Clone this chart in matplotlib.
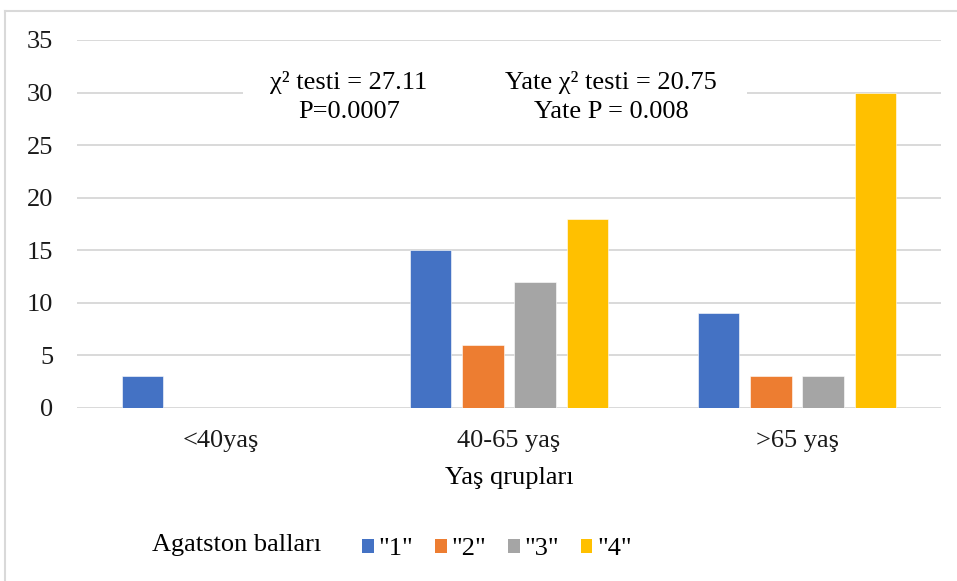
import matplotlib
matplotlib.use("Agg")
import matplotlib.pyplot as plt
from matplotlib.patches import Rectangle
from matplotlib.lines import Line2D
import numpy as np

plt.rcParams['font.family'] = ['Liberation Serif', 'DejaVu Serif']

categories = ['<40yaş', '40-65 yaş', '>65 yaş']
series_names = ['"1"', '"2"', '"3"', '"4"']
values = {
    '"1"': [3, 15, 9],
    '"2"': [0, 6, 3],
    '"3"': [0, 12, 3],
    '"4"': [0, 18, 30],
}
colors = ['#4472C4', '#ED7D31', '#A5A5A5', '#FFC000']
y_ticks = [0, 5, 10, 15, 20, 25, 30, 35]

FS = 19
W, H = 957, 581
fig = plt.figure(figsize=(W / 100, H / 100), dpi=100)

def fx(px):
    return px / W

def fy(py):
    return 1 - py / H

ax = fig.add_axes([fx(77), fy(408), fx(941) - fx(77), fy(40) - fy(408)])

x = np.arange(len(categories))
bar_w = 0.143
step = 0.181
offsets = (np.arange(len(series_names)) - 1.5) * step
for i, name in enumerate(series_names):
    vals = values[name]
    xs = x + offsets[i]
    keep = [j for j, v in enumerate(vals) if v > 0]
    ax.bar(xs[keep], [vals[j] for j in keep], width=bar_w, color=colors[i],
           edgecolor='white', linewidth=0.4, zorder=2)

ax.set_xlim(-0.5, 2.5)
ax.set_ylim(0, 35)
ax.set_yticks(y_ticks)
ax.set_xticks(x)
ax.set_xticklabels(categories)
ax.grid(axis='y', color='#D9D9D9', linewidth=1.4, zorder=0)
ax.set_axisbelow(True)
for s in ax.spines.values():
    s.set_visible(False)
ax.tick_params(axis='both', length=0, labelsize=FS, colors='#1a1a1a')
ax.tick_params(axis='y', pad=17)
ax.tick_params(axis='x', pad=16)

# white panel behind the test statistics
ax.add_patch(Rectangle((fx(243), fy(125)), fx(747) - fx(243), fy(62) - fy(125),
                       transform=fig.transFigure, facecolor='white',
                       edgecolor='none', zorder=1))

fig.text(fx(349), fy(82), 'χ² testi = 27.11', ha='center', va='center', fontsize=FS)
fig.text(fx(349), fy(112), 'P=0.0007', ha='center', va='center', fontsize=FS)
fig.text(fx(611), fy(82), 'Yate χ² testi = 20.75', ha='center', va='center', fontsize=FS)
fig.text(fx(611), fy(112), 'Yate P = 0.008', ha='center', va='center', fontsize=FS)

fig.text(fx(509), fy(478), 'Yaş qrupları', ha='center', va='center', fontsize=FS)

fig.text(fx(237), fy(545), 'Agatston balları', ha='center', va='center', fontsize=FS)
handles = [Rectangle((0, 0), 1, 1, facecolor=c, edgecolor='none') for c in colors]
fig.legend(handles, series_names, loc='center', bbox_to_anchor=(fx(497), fy(549)),
           ncol=4, frameon=False, fontsize=FS, handlelength=0.45, handleheight=0.45,
           handletextpad=0.2, columnspacing=0.8, borderpad=0)

# chart frame
fig.add_artist(Line2D([fx(5), fx(5)], [fy(11), 0], transform=fig.transFigure,
                      color='#D9D9D9', linewidth=1.5))
fig.add_artist(Line2D([fx(5), 1], [fy(11), fy(11)], transform=fig.transFigure,
                      color='#D9D9D9', linewidth=1.5))

fig.savefig('out.png', dpi=100, facecolor='white')
